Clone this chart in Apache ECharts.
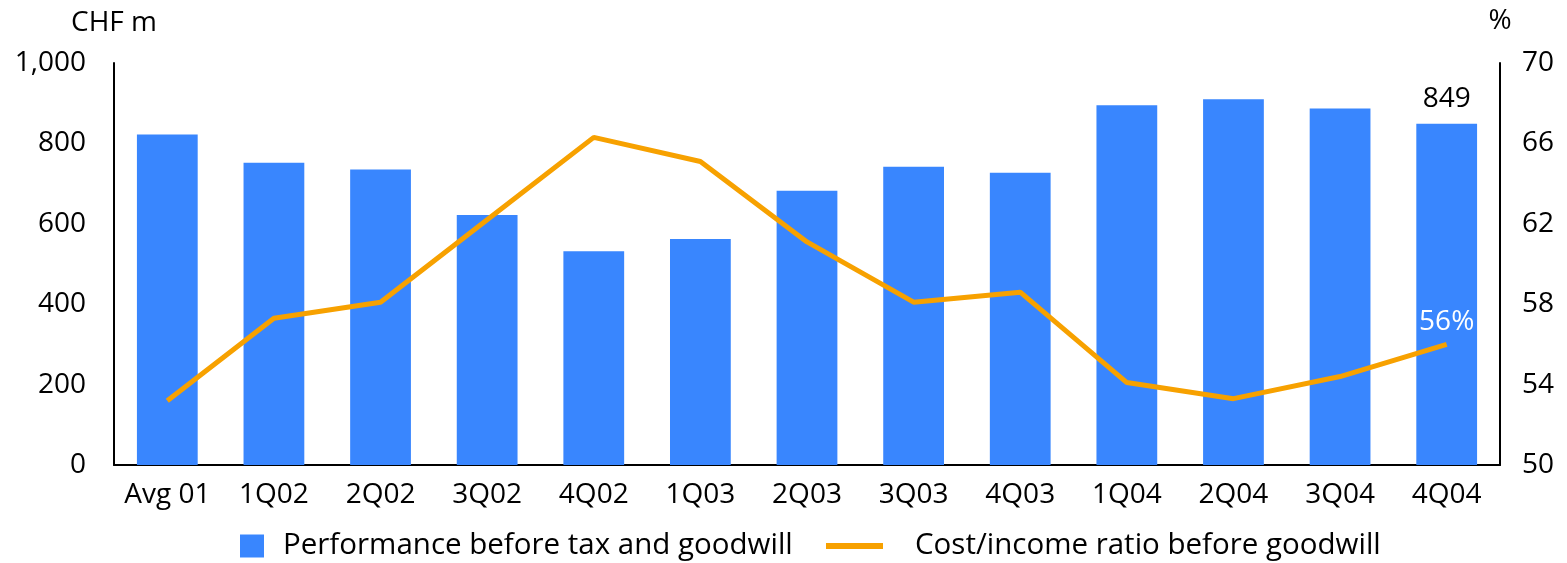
<!DOCTYPE html>
<html>
<head>
<meta charset="utf-8">
<script src="https://cdn.jsdelivr.net/npm/echarts@6/dist/echarts.min.js"></script>
<style>
  html, body { margin: 0; padding: 0; background: #fff; }
  #chart { width: 1567px; height: 563px; }
</style>
</head>
<body>
<div id="chart"></div>
<script>
// Quarterly performance (CHF m) and cost/income ratio (%)
const categories = ['Avg 01', '1Q02', '2Q02', '3Q02', '4Q02', '1Q03', '2Q03', '3Q03', '4Q03', '1Q04', '2Q04', '3Q04', '4Q04'];
const performance = [822, 752, 735, 622, 532, 562, 682, 742, 727, 895, 910, 887, 849];
const costIncome = [53.2, 57.3, 58.1, 62.2, 66.3, 65.1, 61.1, 58.1, 58.6, 54.1, 53.3, 54.4, 56];
const leftTicks = [0, 200, 400, 600, 800, 1000];
const rightTicks = [50, 54, 58, 62, 66, 70];

const BLUE = '#3986FE';
const ORANGE = '#F7A100';
const FONT = '"Open Sans", "Noto Sans", sans-serif';
const FS = 28;
const lastIdx = categories.length - 1;

const chart = echarts.init(document.getElementById('chart'));
chart.setOption({
  animation: false,
  textStyle: { fontFamily: FONT, color: '#000' },
  grid: { left: 114, right: 67, top: 63, bottom: 98 },
  legend: [
    {
      data: [{ name: 'Performance before tax and goodwill', icon: 'rect' }],
      left: 240, top: 531, padding: 0,
      itemWidth: 24, itemHeight: 23, itemGap: 10,
      textStyle: { fontFamily: FONT, fontSize: 29.5, color: '#000', padding: [4, 0, 0, 14] }
    },
    {
      data: [{ name: 'Cost/income ratio before goodwill', icon: 'rect' }],
      left: 826, top: 531, padding: 0,
      itemWidth: 57, itemHeight: 6, itemGap: 10,
      itemStyle: { color: ORANGE },
      textStyle: { fontFamily: FONT, fontSize: 29.5, color: '#000', padding: [4, 0, 0, 27] }
    }
  ],
  xAxis: {
    type: 'category',
    data: categories,
    boundaryGap: true,
    axisLine: { show: true, lineStyle: { color: '#000', width: 2 } },
    axisTick: { show: false },
    axisLabel: { fontFamily: FONT, fontSize: FS, color: '#000', margin: 16, interval: 0 }
  },
  yAxis: [
    {
      type: 'value', min: leftTicks[0], max: leftTicks[leftTicks.length - 1], interval: 200,
      name: 'CHF m', nameLocation: 'end', nameGap: 26,
      nameTextStyle: { fontFamily: FONT, fontSize: FS, color: '#000', align: 'center' },
      axisLine: { show: true, lineStyle: { color: '#000', width: 2 } },
      axisTick: { show: false },
      splitLine: { show: false },
      axisLabel: {
        fontFamily: FONT, fontSize: FS, color: '#000', margin: 28, padding: [8, 0, 0, 0],
        formatter: v => v.toLocaleString('en-US')
      }
    },
    {
      type: 'value', min: rightTicks[0], max: rightTicks[rightTicks.length - 1], interval: 4,
      position: 'right',
      name: '%', nameLocation: 'end', nameGap: 28,
      nameTextStyle: { fontFamily: FONT, fontSize: FS, color: '#000', align: 'center' },
      axisLine: { show: true, lineStyle: { color: '#000', width: 2 } },
      axisTick: { show: false },
      splitLine: { show: false },
      axisLabel: { fontFamily: FONT, fontSize: FS, color: '#000', margin: 22, padding: [8, 0, 0, 0] }
    }
  ],
  series: [
    {
      name: 'Performance before tax and goodwill',
      type: 'bar',
      yAxisIndex: 0,
      barWidth: '57%',
      itemStyle: { color: BLUE },
      data: performance.map((v, i) => i === lastIdx
        ? { value: v, label: { show: true, position: 'top', distance: 11, fontFamily: FONT, fontSize: FS, color: '#000' } }
        : v)
    },
    {
      name: 'Cost/income ratio before goodwill',
      type: 'line',
      yAxisIndex: 1,
      symbol: 'circle',
      symbolSize: 0,
      showSymbol: true,
      lineStyle: { color: ORANGE, width: 5 },
      itemStyle: { color: ORANGE },
      data: costIncome.map((v, i) => i === lastIdx
        ? { value: v, label: { show: true, position: 'top', distance: 8, fontFamily: FONT, fontSize: FS, color: '#fff', formatter: p => p.value + '%' } }
        : v)
    }
  ]
});
</script>
</body>
</html>
